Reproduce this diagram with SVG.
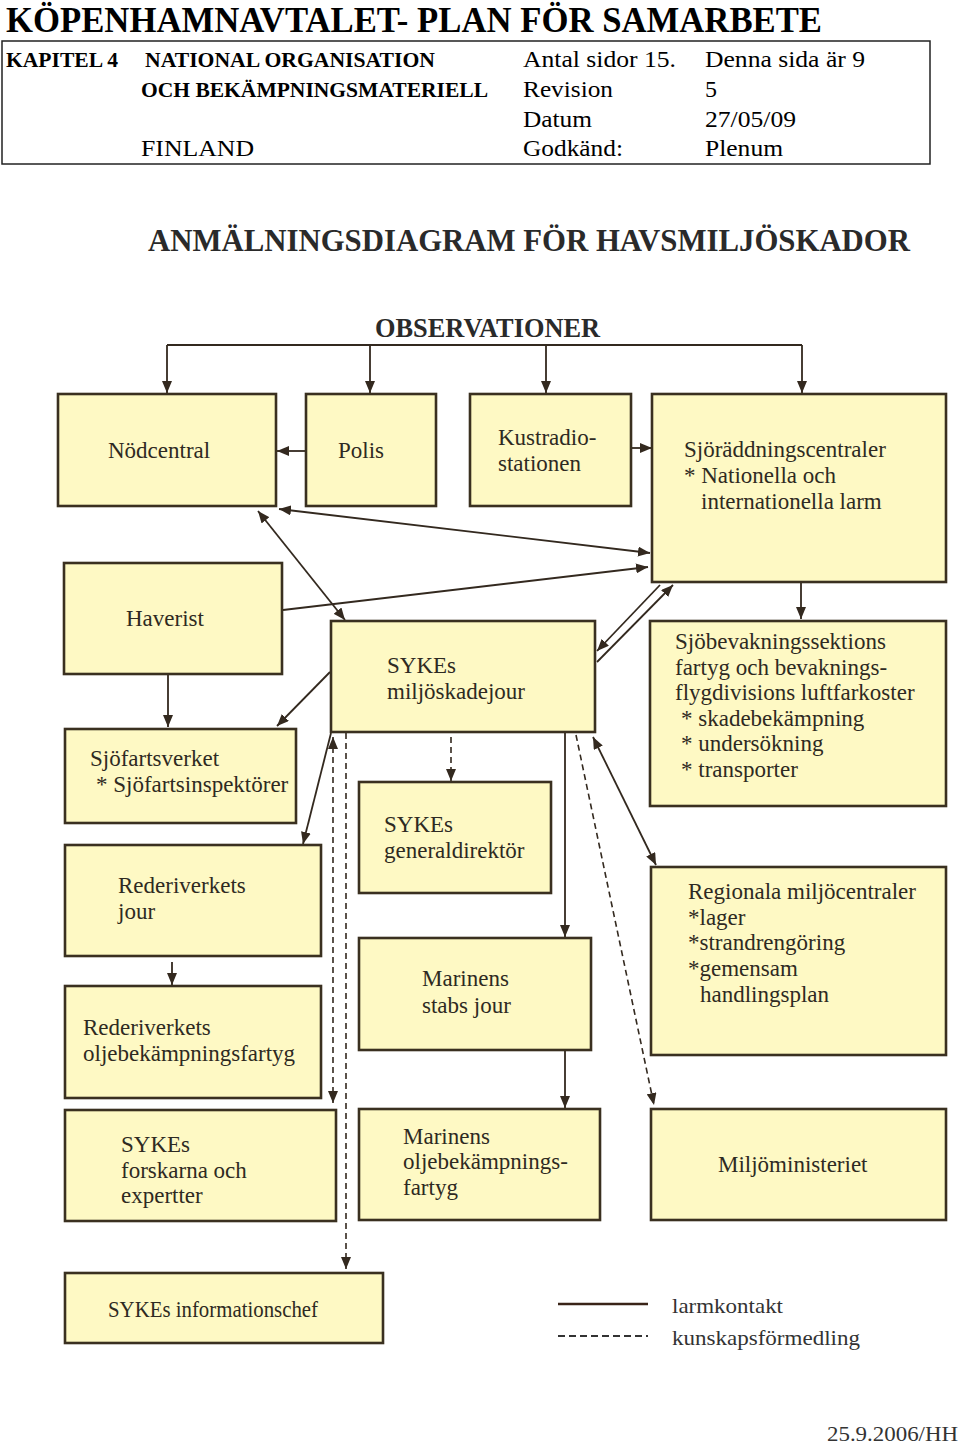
<svg xmlns="http://www.w3.org/2000/svg" width="960" height="1446" viewBox="0 0 960 1446">
<defs>
<marker id="ah" viewBox="0 0 12 10" refX="12" refY="5" markerWidth="12" markerHeight="10" markerUnits="userSpaceOnUse" orient="auto-start-reverse">
<path d="M0,0 L12,5 L0,10 z" fill="#33291f"/>
</marker>
<style>
.hd{font-family:"Liberation Serif","Times New Roman",serif;fill:#000}
.b{font-weight:bold}
.box rect{fill:#FEF9C4;stroke:#3a3020;stroke-width:2.6}
.box text{font-family:"Liberation Serif","Times New Roman",serif;font-size:23px;fill:#2e2a22}
.ttl{font-family:"Liberation Serif","Times New Roman",serif;font-weight:bold;fill:#2a2a2a}
.c line,.c path{stroke:#33291f;stroke-width:1.8;fill:none}
.c .d{stroke-dasharray:6,4;stroke-width:1.6}
.lg{font-family:"Liberation Serif","Times New Roman",serif;font-size:22px;fill:#333}
</style>
</defs>
<rect width="960" height="1446" fill="#fff"/>

<g id="header">
<text class="hd b" x="6" y="32" font-size="36" textLength="816" lengthAdjust="spacingAndGlyphs">KÖPENHAMNAVTALET- PLAN FÖR SAMARBETE</text>
<rect x="2" y="41" width="928" height="123" fill="none" stroke="#222" stroke-width="1.5"/>
<text class="hd b" x="6" y="67" font-size="20" textLength="112" lengthAdjust="spacingAndGlyphs">KAPITEL 4</text>
<text class="hd b" x="145" y="67" font-size="20" textLength="290" lengthAdjust="spacingAndGlyphs">NATIONAL ORGANISATION</text>
<text class="hd b" x="141" y="97" font-size="20" textLength="347" lengthAdjust="spacingAndGlyphs">OCH BEKÄMPNINGSMATERIELL</text>
<text class="hd" x="141" y="156" font-size="24" textLength="113" lengthAdjust="spacingAndGlyphs">FINLAND</text>
<text class="hd" x="523" y="67" font-size="24" textLength="153" lengthAdjust="spacingAndGlyphs">Antal sidor 15.</text>
<text class="hd" x="523" y="97" font-size="24" textLength="90" lengthAdjust="spacingAndGlyphs">Revision</text>
<text class="hd" x="523" y="127" font-size="24" textLength="69" lengthAdjust="spacingAndGlyphs">Datum</text>
<text class="hd" x="523" y="156" font-size="24" textLength="100" lengthAdjust="spacingAndGlyphs">Godkänd:</text>
<text class="hd" x="705" y="67" font-size="24" textLength="160" lengthAdjust="spacingAndGlyphs">Denna sida är 9</text>
<text class="hd" x="705" y="97" font-size="24">5</text>
<text class="hd" x="705" y="127" font-size="24" textLength="91" lengthAdjust="spacingAndGlyphs">27/05/09</text>
<text class="hd" x="705" y="156" font-size="24" textLength="78" lengthAdjust="spacingAndGlyphs">Plenum</text>
</g>

<g id="title">
<text class="ttl" x="148" y="251" font-size="32" textLength="762" lengthAdjust="spacingAndGlyphs">ANMÄLNINGSDIAGRAM FÖR HAVSMILJÖSKADOR</text>
<text class="ttl" x="375" y="337" font-size="27" textLength="225" lengthAdjust="spacingAndGlyphs">OBSERVATIONER</text>
</g>

<g id="connectors" class="c">
<path d="M167,345 H802"/>
<line x1="167" y1="345" x2="167" y2="393" marker-end="url(#ah)"/>
<line x1="370" y1="345" x2="370" y2="393" marker-end="url(#ah)"/>
<line x1="546" y1="345" x2="546" y2="393" marker-end="url(#ah)"/>
<line x1="802" y1="345" x2="802" y2="393" marker-end="url(#ah)"/>
<line x1="306" y1="451" x2="277" y2="451" marker-end="url(#ah)"/>
<line x1="631" y1="448" x2="652" y2="448" marker-end="url(#ah)"/>
<line x1="279" y1="509" x2="650" y2="553" marker-start="url(#ah)" marker-end="url(#ah)"/>
<line x1="258" y1="511" x2="345" y2="620" marker-start="url(#ah)" marker-end="url(#ah)"/>
<line x1="283" y1="610" x2="648" y2="567" marker-end="url(#ah)"/>
<line x1="660" y1="585" x2="597" y2="651" marker-end="url(#ah)"/>
<line x1="597" y1="662" x2="673" y2="585" marker-end="url(#ah)"/>
<line x1="801" y1="582" x2="801" y2="619" marker-end="url(#ah)"/>
<line x1="168" y1="674" x2="168" y2="727" marker-end="url(#ah)"/>
<line x1="330" y1="672" x2="277" y2="726" marker-end="url(#ah)"/>
<line x1="331" y1="733" x2="303" y2="844" marker-end="url(#ah)"/>
<line x1="172" y1="962" x2="172" y2="985" marker-end="url(#ah)"/>
<line class="d" x1="333" y1="737" x2="333" y2="1103" marker-start="url(#ah)" marker-end="url(#ah)"/>
<line class="d" x1="346" y1="733" x2="346" y2="1269" marker-end="url(#ah)"/>
<line class="d" x1="451" y1="737" x2="451" y2="781" marker-end="url(#ah)"/>
<line x1="565" y1="733" x2="565" y2="937" marker-end="url(#ah)"/>
<line x1="565" y1="1050" x2="565" y2="1108" marker-end="url(#ah)"/>
<line class="d" x1="576" y1="735" x2="654" y2="1105" marker-end="url(#ah)"/>
<line x1="593" y1="737" x2="656" y2="865" marker-start="url(#ah)" marker-end="url(#ah)"/>
</g>

<g id="nodcentral" class="box"><rect x="58" y="394" width="218" height="112"/><text x="108" y="458">Nödcentral</text></g>
<g id="polis" class="box"><rect x="306" y="394" width="130" height="112"/><text x="338" y="458">Polis</text></g>
<g id="kustradio" class="box"><rect x="470" y="394" width="161" height="112"/><text x="498" y="445">Kustradio-</text><text x="498" y="471">stationen</text></g>
<g id="sjoraddning" class="box"><rect x="652" y="394" width="294" height="188"/><text x="684" y="457">Sjöräddningscentraler</text><text x="684" y="483">* Nationella och</text><text x="701" y="509">internationella larm</text></g>
<g id="haverist" class="box"><rect x="64" y="563" width="218" height="111"/><text x="126" y="626">Haverist</text></g>
<g id="sykes-jour" class="box"><rect x="331" y="621" width="264" height="111"/><text x="387" y="673">SYKEs</text><text x="387" y="699">miljöskadejour</text></g>
<g id="sjobevakning" class="box"><rect x="650" y="621" width="296" height="185"/><text x="675" y="649">Sjöbevakningssektions</text><text x="675" y="675">fartyg och bevaknings-</text><text x="675" y="700">flygdivisions luftfarkoster</text><text x="681" y="726">* skadebekämpning</text><text x="681" y="751">* undersökning</text><text x="681" y="777">* transporter</text></g>
<g id="sjofartsverket" class="box"><rect x="65" y="729" width="231" height="94"/><text x="90" y="766">Sjöfartsverket</text><text x="96" y="792">* Sjöfartsinspektörer</text></g>
<g id="generaldirektor" class="box"><rect x="359" y="782" width="192" height="111"/><text x="384" y="832">SYKEs</text><text x="384" y="858">generaldirektör</text></g>
<g id="rederi-jour" class="box"><rect x="65" y="845" width="256" height="111"/><text x="118" y="893">Rederiverkets</text><text x="118" y="919">jour</text></g>
<g id="regionala" class="box"><rect x="651" y="867" width="295" height="188"/><text x="688" y="899">Regionala miljöcentraler</text><text x="688" y="925">*lager</text><text x="688" y="950">*strandrengöring</text><text x="688" y="976">*gemensam</text><text x="700" y="1002">handlingsplan</text></g>
<g id="marinens-stab" class="box"><rect x="359" y="938" width="232" height="112"/><text x="422" y="986">Marinens</text><text x="422" y="1013">stabs jour</text></g>
<g id="rederi-fartyg" class="box"><rect x="65" y="986" width="256" height="112"/><text x="83" y="1035">Rederiverkets</text><text x="83" y="1061">oljebekämpningsfartyg</text></g>
<g id="forskarna" class="box"><rect x="65" y="1110" width="271" height="111"/><text x="121" y="1152">SYKEs</text><text x="121" y="1178">forskarna och</text><text x="121" y="1203">expertter</text></g>
<g id="marinens-fartyg" class="box"><rect x="359" y="1109" width="241" height="111"/><text x="403" y="1144">Marinens</text><text x="403" y="1169">oljebekämpnings-</text><text x="403" y="1195">fartyg</text></g>
<g id="miljoministeriet" class="box"><rect x="651" y="1109" width="295" height="111"/><text x="718" y="1172">Miljöministeriet</text></g>
<g id="informationschef" class="box"><rect x="65" y="1273" width="318" height="70"/><text x="108" y="1317" textLength="210" lengthAdjust="spacingAndGlyphs">SYKEs informationschef</text></g>

<g id="legend">
<line x1="558" y1="1304" x2="648" y2="1304" stroke="#3a2418" stroke-width="2.4"/>
<line x1="558" y1="1336" x2="648" y2="1336" stroke="#333" stroke-width="1.8" stroke-dasharray="7,4"/>
<text class="lg" x="672" y="1313" textLength="111" lengthAdjust="spacingAndGlyphs">larmkontakt</text>
<text class="lg" x="672" y="1345" textLength="188" lengthAdjust="spacingAndGlyphs">kunskapsförmedling</text>
<text class="lg" x="827" y="1441" textLength="131" lengthAdjust="spacingAndGlyphs">25.9.2006/HH</text>
</g>
</svg>
